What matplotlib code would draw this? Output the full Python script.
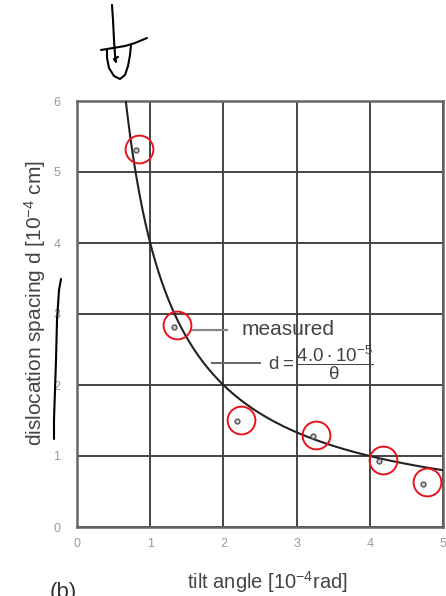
import numpy as np
import matplotlib
matplotlib.use("Agg")
import matplotlib.pyplot as plt

plt.rcParams["font.family"] = ["Liberation Sans", "DejaVu Sans"]
plt.rcParams["mathtext.default"] = "regular"

# measured tilt angle [1e-4 rad] vs dislocation spacing [1e-4 cm]
theta_meas = [0.80, 1.32, 2.19, 3.22, 4.13, 4.73]
d_meas = [5.31, 2.82, 1.49, 1.28, 0.93, 0.61]

# d = b / theta
b_const = 4.0
x_ticks = [0, 1, 2, 3, 4, 5]
y_ticks = [0, 1, 2, 3, 4, 5, 6]

# hand-drawn pen strokes on the scan (pixel coords of the page)
stroke_top_vert_x = [112, 113, 114, 115, 116, 114, 118]
stroke_top_vert_y = [5, 20, 40, 55, 62, 59, 57]
stroke_top_bar_x = [101, 113, 125, 135, 147]
stroke_top_bar_y = [50, 48, 46, 43, 38]
stroke_top_u_x = [107, 107, 109, 114, 120, 125, 128, 130, 131]
stroke_top_u_y = [50, 58, 68, 76, 79, 75, 66, 55, 45]
stroke_left_x = [61, 59, 57, 56, 55, 54, 54]
stroke_left_y = [279, 290, 320, 360, 390, 420, 439]

fig = plt.figure(figsize=(4.46, 5.96), dpi=100)
ax = fig.add_axes([77 / 446, 69 / 596, 366 / 446, 426 / 596])

ax.set_xlim(0, 5)
ax.set_ylim(0, 6)
ax.set_xticks(x_ticks)
ax.set_yticks(y_ticks)
ax.grid(True, color="#444444", lw=1.4)
ax.set_axisbelow(True)
ax.tick_params(length=0, labelsize=9, labelcolor="#999999")
ax.tick_params(axis="x", pad=8)
ax.tick_params(axis="y", pad=12)
for s in ax.spines.values():
    s.set_color("#666666")
    s.set_linewidth(1.8)

# fitted curve
th = np.linspace(0.6, 5, 300)
ax.plot(th, b_const / th, color="#222222", lw=1.5, zorder=3)

# measured points
ax.plot(theta_meas, d_meas, "o", ms=3.5, mfc="#cccccc", mec="#555555",
        mew=1.0, zorder=4)
# red pen circles around the points
ax.plot(np.array(theta_meas) + 0.05, np.array(d_meas) + 0.02, "o", ms=20,
        mfc="none", mec="#e8141b", mew=1.4, zorder=5, clip_on=False)

# legend-like annotations
ax.plot([1.56, 2.05], [2.78, 2.78], color="#888888", lw=1.6, zorder=3)
ax.text(2.25, 2.78, "measured", fontsize=15, color="#444444", va="center")
ax.plot([1.85, 2.5], [2.31, 2.31], color="#666666", lw=1.4, zorder=3)
ax.text(2.61, 2.31, r"d$=\dfrac{4.0\cdot10^{-5}}{\theta}$", fontsize=13.5,
        color="#444444", va="center")

ax.set_xlabel(r"tilt angle [$10^{-4}$rad]", fontsize=14.5, color="#444444")
ax.xaxis.label.set_va("center")
ax.xaxis.set_label_coords(0.52, -0.13)
ax.set_ylabel(r"dislocation spacing d [$10^{-4}$ cm]", fontsize=15,
              color="#444444")
ax.yaxis.label.set_va("center")
ax.yaxis.set_label_coords(-0.115, 0.526)

fig.text(50 / 446, 1 - 582 / 596, "(b)", fontsize=16, color="#333333",
         va="top")

# overlay for the pen marks in page pixels
ov = fig.add_axes([0, 0, 1, 1], facecolor="none")
ov.set_xlim(0, 446)
ov.set_ylim(596, 0)
ov.axis("off")
for xs, ys in [(stroke_top_vert_x, stroke_top_vert_y),
               (stroke_top_bar_x, stroke_top_bar_y),
               (stroke_top_u_x, stroke_top_u_y),
               (stroke_left_x, stroke_left_y)]:
    ov.plot(xs, ys, color="black", lw=1.5, solid_capstyle="round")

fig.savefig("out.png", dpi=100)
